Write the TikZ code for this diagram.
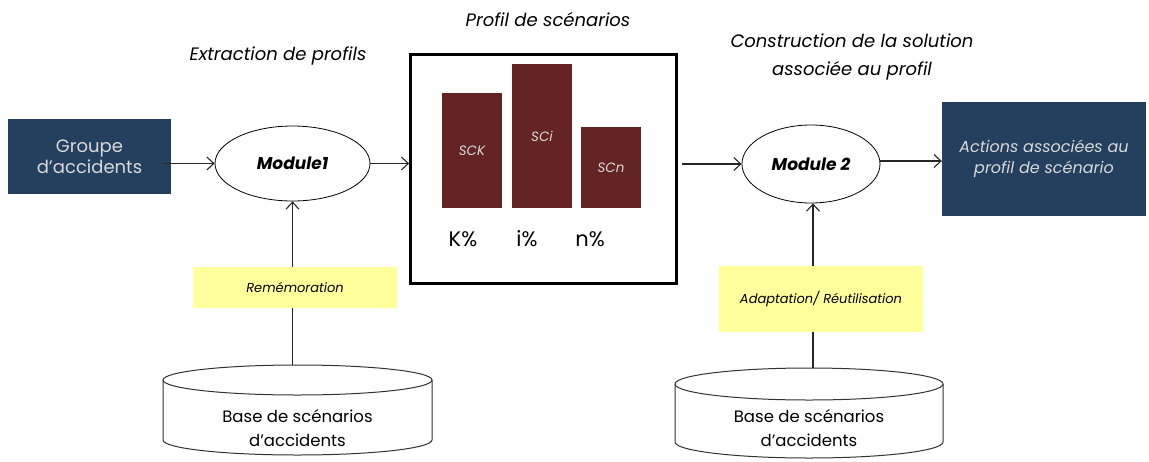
\documentclass[tikz,border=0pt]{standalone}
\usepackage{fontspec}
\setmainfont{Poppins}
\usetikzlibrary{arrows.meta,shapes.geometric}
\definecolor{navy}{HTML}{253F5F}
\definecolor{maroon}{HTML}{632423}
\definecolor{lyellow}{HTML}{FFFF9C}
\definecolor{ltext}{HTML}{D9D9D9}
\tikzset{
  conn/.style={draw=black!85, line width=1.1pt, -{Straight Barb[length=7pt,width=13pt]}},
  plainline/.style={draw=black!80, line width=1pt},
  navybox/.style={fill=navy, draw=none, text=ltext, align=center, font=\fontsize{18}{21}\selectfont},
  modell/.style={ellipse, draw=black, line width=0.8pt, font=\bfseries\itshape\fontsize{17}{20}\selectfont},
  bar/.style={fill=maroon, draw=none, text=ltext, font=\itshape\fontsize{13.5}{16}\selectfont},
  ybox/.style={fill=lyellow, draw=none, font=\itshape\fontsize{13}{15}\selectfont},
  title/.style={font=\itshape\fontsize{18}{28}\selectfont, align=center},
  pct/.style={font=\fontsize{21}{24}\selectfont},
  dbtext/.style={font=\fontsize{16.5}{24}\selectfont, align=center},
}
\begin{document}
\begin{tikzpicture}[x=1pt,y=-1pt]
\useasboundingbox (0,0) rectangle (1149,461);
% left box
\node[navybox, minimum width=163pt, minimum height=75pt] (grp) at (89.5,156.5) {Groupe\\d'accidents};
\node[modell, minimum width=155pt, minimum height=75pt] (m1) at (292.5,163.5) {Module1};
% profile box
\node[draw=black, line width=2.8pt, minimum width=266pt, minimum height=229pt] (prof) at (543.5,169) {};
\node[bar, minimum width=60pt, minimum height=115pt] (sck) at (472,150.5) {SCK};
\node[bar, minimum width=60pt, minimum height=144pt] (sci) at (542,136) {SCi};
\node[bar, minimum width=60pt, minimum height=81pt] (scn) at (611,167.5) {SCn};
\node[pct] (pk) at (463,239) {K\%};
\node[pct] (pi) at (527,239) {i\%};
\node[pct] (pn) at (590,239) {n\%};
% module 2
\node[modell, minimum width=138pt, minimum height=78pt] (m2) at (811,164) {Module 2};
\node[navybox, font=\itshape\fontsize{16}{21}\selectfont, minimum width=204pt, minimum height=114pt] (act) at (1044,159) {Actions associées au\\profil de scénario};
% titles
\node[title] (t1) at (278,56) {Extraction de profils};
\node[title] (t2) at (548,20) {Profil de scénarios};
\node[title] (t3) at (852,57) {Construction de la solution\\associée au profil};
% databases
\draw[plainline, fill=white] (163,380) -- (163,440) arc[start angle=180,end angle=0,x radius=134.5,y radius=15] -- (432,380);
\draw[plainline, fill=white] (297.5,380) ellipse[x radius=134.5,y radius=15];
\coordinate (db1) at (292.5,365);
\node[dbtext] (db1t) at (297.5,428) {Base de scénarios\\d'accidents};
\draw[plainline, fill=white] (675,384) -- (675,442) arc[start angle=180,end angle=0,x radius=134,y radius=16] -- (943,384);
\draw[plainline, fill=white] (809,384) ellipse[x radius=134,y radius=16];
\coordinate (db2) at (813,368);
\node[dbtext] (db2t) at (809,428) {Base de scénarios\\d'accidents};
% vertical connectors (behind yellow boxes)
\draw[conn] (db1) -- (db1 |- m1.south);
\draw[conn] (db2) -- (db2 |- m2.south);
% yellow boxes
\node[ybox, minimum width=204pt, minimum height=41pt] (rem) at (295,287.5) {Remémoration};
\node[ybox, minimum width=204pt, minimum height=66pt] (ada) at (821,299) {Adaptation/ Réutilisation};
% horizontal connectors
\draw[conn] (grp.east) ++(-8,7) coordinate (g1) -- (m1.west |- g1);
\draw[conn] (m1.east) -- (m1.east -| prof.west);
\draw[conn] (prof.east |- m2.west) ++(4,0) coordinate (p1) -- (m2.west);
\draw[conn] (m2.east) ++(0,-3) coordinate (m2e) -- (m2e -| act.west);
\end{tikzpicture}
\end{document}
